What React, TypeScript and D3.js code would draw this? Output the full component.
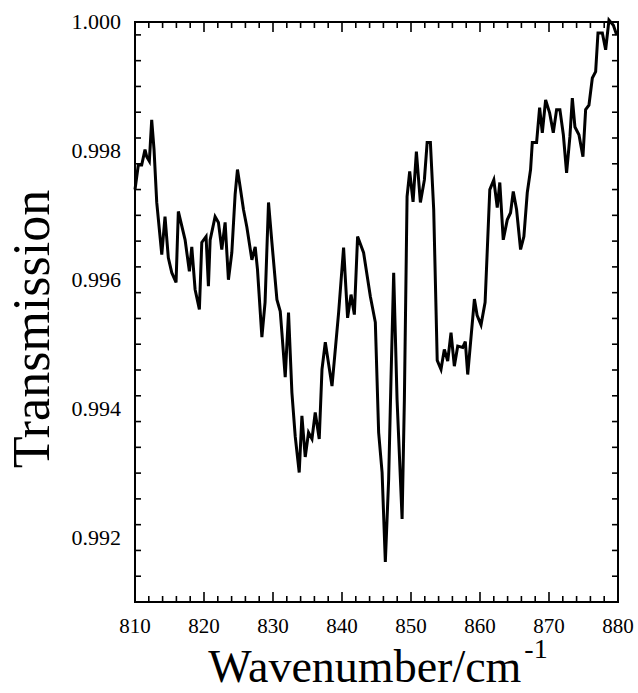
import React, { useEffect, useRef } from 'react';
import * as d3 from 'd3';

// spectrum
const wavenumber = [
  810.0, 810.48, 810.97, 811.45, 811.7, 812.08, 812.42, 812.76, 813.15, 813.88,
  814.35, 814.83, 815.33, 815.95, 816.28, 817.26, 817.88, 818.23, 818.71, 819.33,
  819.68, 820.3, 820.64, 820.89, 821.61, 822.09, 822.58, 823.06, 823.54, 824.03,
  824.51, 824.85, 825.24, 825.72, 826.21, 826.94, 827.42, 827.75, 828.39, 828.85,
  829.35, 829.84, 830.57, 831.05, 831.29, 831.77, 832.25, 832.74, 833.22, 833.8,
  834.19, 834.67, 835.15, 835.65, 836.12, 836.7, 837.1, 837.58, 838.55, 839.51,
  840.23, 840.81, 841.31, 841.79, 842.26, 843.13, 844.11, 844.83, 845.31, 845.81,
  846.28, 846.76, 847.11, 847.49, 847.98, 848.71, 849.04, 849.43, 849.81, 850.3,
  850.78, 851.36, 851.94, 852.34, 852.81, 853.29, 853.8, 854.35, 854.83, 855.32,
  855.8, 856.28, 856.77, 857.5, 857.87, 858.22, 858.71, 859.19, 859.58, 860.15,
  860.74, 861.42, 862.0, 862.5, 862.87, 863.37, 863.95, 864.43, 864.82, 865.3,
  865.88, 866.36, 866.85, 867.33, 867.58, 868.2, 868.64, 869.03, 869.51, 870.09,
  870.62, 871.1, 871.58, 872.08, 872.55, 873.03, 873.38, 873.76, 874.34, 874.92,
  875.31, 875.79, 876.28, 876.76, 877.1, 877.73, 878.21, 878.69, 879.33, 879.81,
];
const transmission = [
  0.9974, 0.99778, 0.99778, 0.99802, 0.99791, 0.99784, 0.99848, 0.99802, 0.9972, 0.99639,
  0.99698, 0.99634, 0.99611, 0.99596, 0.99706, 0.99662, 0.99613, 0.99651, 0.99585, 0.99554,
  0.99658, 0.99667, 0.9959, 0.99662, 0.99698, 0.99689, 0.99647, 0.99689, 0.996, 0.99642,
  0.99732, 0.99771, 0.99744, 0.99709, 0.99682, 0.99631, 0.99651, 0.99616, 0.99511, 0.99565,
  0.9972, 0.99658, 0.99569, 0.99551, 0.99518, 0.99449, 0.99549, 0.99425, 0.99357, 0.99301,
  0.99389, 0.99325, 0.99363, 0.99353, 0.99394, 0.99353, 0.99461, 0.99503, 0.99435, 0.99549,
  0.9965, 0.99541, 0.99577, 0.99546, 0.99667, 0.99642, 0.99574, 0.99534, 0.99363, 0.99301,
  0.99162, 0.9929, 0.9945, 0.99611, 0.99414, 0.99229, 0.99414, 0.99729, 0.99768, 0.99721,
  0.99799, 0.9972, 0.99755, 0.99813, 0.99813, 0.99709, 0.99475, 0.99461, 0.99492, 0.99474,
  0.99518, 0.99466, 0.99497, 0.99495, 0.99504, 0.99453, 0.99512, 0.9957, 0.99545, 0.9953,
  0.99565, 0.9974, 0.99755, 0.99712, 0.99751, 0.99662, 0.99693, 0.99704, 0.99737, 0.99709,
  0.99647, 0.99667, 0.99735, 0.99771, 0.99813, 0.99813, 0.99867, 0.99828, 0.99879, 0.99859,
  0.99828, 0.99864, 0.99864, 0.99825, 0.99766, 0.99822, 0.99882, 0.99837, 0.99825, 0.99791,
  0.99864, 0.99871, 0.99913, 0.99923, 0.99983, 0.99983, 0.99957, 1.00003, 0.99995, 0.9998,
];
const xTicks = [810, 820, 830, 840, 850, 860, 870, 880];
const yTicks = [0.992, 0.994, 0.996, 0.998, 1.0];

const App = () => {
  const ref = useRef<SVGSVGElement>(null);

  useEffect(() => {
    drawChart();
  }, []);

  const drawChart = () => {
    const svg = d3.select(ref.current);
    svg.selectAll('*').remove();

    const margin = { left: 135, right: 618, top: 22, bottom: 602 };
    const font = "'Liberation Serif', 'Times New Roman', serif";

    const xScale = d3.scaleLinear().domain([810, 880]).range([margin.left, margin.right]);
    const yScale = d3.scaleLinear().domain([0.991, 1.0]).range([margin.bottom, margin.top]);

    const xMinor = d3.range(810, 880.1, 2);
    const yMinor = d3.range(0, 23).map(i => 0.991 + i * 0.0004).filter(v => v <= 1.00001);

    // frame
    svg
      .append('rect')
      .attr('x', margin.left)
      .attr('y', margin.top)
      .attr('width', margin.right - margin.left)
      .attr('height', margin.bottom - margin.top)
      .attr('fill', 'none')
      .attr('stroke', '#000')
      .attr('stroke-width', 2);

    const isMajorX = (v: number) => Math.abs(v % 10) < 1e-6;
    const isMajorY = (v: number) => yTicks.some(t => Math.abs(t - v) < 1e-7);

    // inward ticks on all four sides
    const ticks = svg.append('g').attr('stroke', '#000').attr('stroke-width', 1.6);
    xMinor.forEach(v => {
      const len = isMajorX(v) ? 10 : 6;
      const x = xScale(v);
      ticks.append('line').attr('x1', x).attr('x2', x)
        .attr('y1', margin.bottom).attr('y2', margin.bottom - len);
      ticks.append('line').attr('x1', x).attr('x2', x)
        .attr('y1', margin.top).attr('y2', margin.top + len);
    });
    yMinor.forEach(v => {
      const len = isMajorY(v) ? 10 : 6;
      const y = yScale(v);
      ticks.append('line').attr('x1', margin.left).attr('x2', margin.left + len)
        .attr('y1', y).attr('y2', y);
      ticks.append('line').attr('x1', margin.right).attr('x2', margin.right - len)
        .attr('y1', y).attr('y2', y);
    });

    // tick labels
    svg
      .append('g')
      .selectAll('text')
      .data(xTicks)
      .join('text')
      .attr('x', d => xScale(d))
      .attr('y', 633)
      .attr('text-anchor', 'middle')
      .style('font-family', font)
      .attr('font-size', 21)
      .text(d => d);

    svg
      .append('g')
      .selectAll('text')
      .data(yTicks)
      .join('text')
      .attr('x', 121)
      .attr('y', d => yScale(d) + 7)
      .attr('text-anchor', 'end')
      .style('font-family', font)
      .attr('font-size', 22)
      .text(d => d3.format('.3f')(d));

    // axis titles
    svg
      .append('text')
      .attr('transform', `translate(49,329) rotate(-90)`)
      .attr('text-anchor', 'middle')
      .style('font-family', font)
      .attr('font-size', 52)
      .text('Transmission');

    const xt = svg
      .append('text')
      .attr('x', 378)
      .attr('y', 682)
      .attr('text-anchor', 'middle')
      .style('font-family', font)
      .attr('font-size', 46);
    xt.append('tspan').text('Wavenumber/cm');
    xt.append('tspan').attr('font-size', 28).attr('dy', -24).attr('dx', 3).text('-1');

    // spectrum
    const points = wavenumber.map((w, i) => [w, transmission[i]] as [number, number]);
    const line = d3
      .line<[number, number]>()
      .x(d => xScale(d[0]))
      .y(d => yScale(d[1]));

    svg
      .append('path')
      .datum(points)
      .attr('d', line)
      .attr('fill', 'none')
      .attr('stroke', '#000')
      .attr('stroke-width', 3)
      .attr('stroke-linejoin', 'miter');
  };

  return (
    <svg
      ref={ref}
      width={638}
      height={693}
      style={{ position: 'absolute', left: 0, top: 0, background: '#fff' }}
    />
  );
};
export default App;
